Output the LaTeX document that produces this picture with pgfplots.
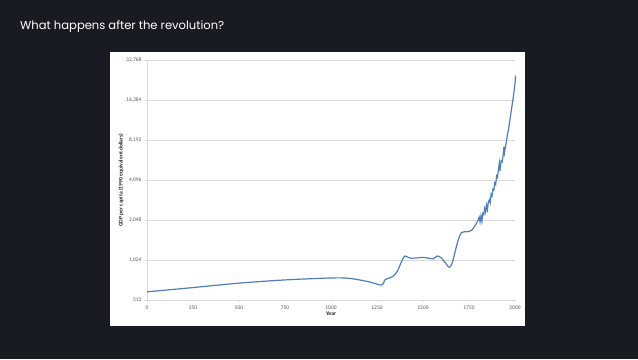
\documentclass[border=0pt]{standalone}
\usepackage{pgfplots}
\pgfplotsset{compat=1.18}
\usepackage{fontspec}
\setmainfont{Carlito}
\newfontfamily\titlefont{Poppins}
\definecolor{bgdark}{HTML}{181B22}
\definecolor{gdpblue}{HTML}{4F7FBA}
\definecolor{gridgray}{HTML}{D9D9D9}
\definecolor{ticktext}{HTML}{595959}
\begin{document}
\begin{tikzpicture}[x=1bp,y=1bp]
\fill[bgdark] (0,0) rectangle (638,359);
\fill[white] (110,33) rectangle (525,307);
\node[anchor=base west,text=white,font=\titlefont\fontsize{11.6}{14}\selectfont,inner sep=0] at (20,330) {What happens after the revolution?};
\begin{axis}[
  at={(147bp,59bp)}, anchor=south west,
  scale only axis, width=368bp, height=240bp,
  xmin=0, xmax=2000, ymin=512, ymax=32768,
  ymode=log, log basis y=2,
  xtick={0,250,...,2000},
  xticklabels={0,250,500,750,1000,1250,1500,1750,2000},
  ytick={512,1024,2048,4096,8192,16384,32768},
  yticklabels={512,{1,024},{2,048},{4,096},{8,192},{16,384},{32,768}},
  ticklabel style={font=\fontsize{5.5}{6}\selectfont, text=ticktext},
  xticklabel style={yshift=0bp},
  ymajorgrids, grid style={gridgray, line width=0.6pt},
  axis x line*=bottom, axis y line*=left,
  axis line style={gridgray, line width=0.6pt},
  tick style={gridgray, line width=0.5pt},
  major tick length=2bp,
  tick align=outside,
  xtick pos=bottom, ytick pos=left,
  xlabel={\bfseries Year}, ylabel={\bfseries GDP per capita (1990 equivalent dollars)},
  label style={font=\fontsize{5.6}{6}\selectfont, text=black!85},
  xlabel style={yshift=4bp},
  ylabel style={yshift=-4bp},
  clip=false,
]
\addplot[gdpblue, line width=1.2pt, smooth, tension=0.5] coordinates {
(0,590) (250,635) (500,686) (750,725) (1000,750) (1100,745) (1200,705) (1276,663)
(1290,720) (1300,735) (1335,768) (1360,840) (1385,1010) (1402,1098) (1429,1058)
(1470,1062) (1502,1072) (1540,1050) (1557,1046) (1578,1098) (1600,1060) (1625,960)
(1644,901) (1660,990) (1690,1430) (1710,1650) (1740,1670) (1765,1720) (1790,1930) (1800,2050)
};
\addplot[gdpblue, line width=1.2pt] coordinates {
(1800,2050) (1805,2150) (1810,1980) (1815,2200) (1820,2000) (1825,2300) (1830,2250)
(1835,2500) (1840,2350) (1845,2650) (1850,2450) (1855,2800) (1860,2900) (1865,2750)
(1870,3200) (1875,3100) (1880,3500) (1885,3450) (1890,3900) (1895,3800) (1900,4400)
(1905,4300) (1910,4900) (1915,5500) (1918,4800) (1920,5100) (1925,5700) (1930,5600)
(1935,6200) (1940,7300) (1943,6600) (1945,6900) (1950,7500) (1955,8300) (1960,9200)
(1965,9900) (1970,11000) (1975,12300) (1980,13800) (1985,15200) (1990,17000)
(1995,19200) (2000,22000) (2003,25000)
};
\end{axis}
\end{tikzpicture}
\end{document}
